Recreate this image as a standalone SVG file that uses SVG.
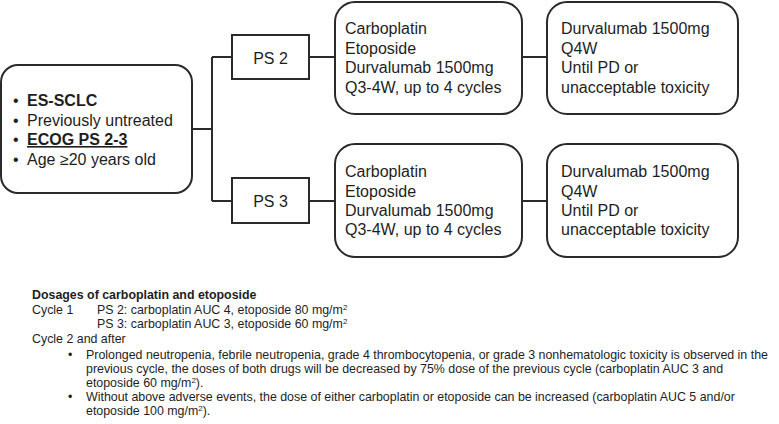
<svg xmlns="http://www.w3.org/2000/svg" width="779" height="424" viewBox="0 0 779 424">
<style>
.box{fill:#fff;stroke:#2a2a2a;stroke-width:2}
.ln{fill:none;stroke:#2a2a2a;stroke-width:2}
.t{font-family:"Liberation Sans",Arial,sans-serif;font-size:16px;fill:#1e1e1e}
.b{font-weight:bold}
.f{font-family:"Liberation Sans",Arial,sans-serif;font-size:12.4px;fill:#1e1e1e}
.sup{font-size:8px}
</style>
<rect width="779" height="424" fill="#fff"/>
<g id="connectors">
<path class="ln" d="M192 129H212M212 57V201M212 57H232M212 201H232M309 57H335M309 201H335M522 57H547M522 201H547"/>
</g>
<g id="eligibility">
<rect class="box" x="1" y="65" width="191" height="128" rx="17"/>
<text class="t" x="13" y="106">•</text><text class="t b" x="27" y="106">ES-SCLC</text>
<text class="t" x="13" y="126">•</text><text class="t" x="27" y="126">Previously untreated</text>
<text class="t" x="13" y="145">•</text><text class="t b" x="27" y="145" text-decoration="underline">ECOG PS 2-3</text>
<text class="t" x="13" y="165">•</text><text class="t" x="27" y="165">Age ≥20 years old</text>
</g>
<g id="ps2">
<rect class="box" x="232" y="35" width="77" height="44"/>
<text class="t" x="270.5" y="63.5" text-anchor="middle">PS 2</text>
</g>
<g id="ps3">
<rect class="box" x="232" y="178" width="77" height="45"/>
<text class="t" x="270.5" y="207" text-anchor="middle">PS 3</text>
</g>
<g id="chemo2">
<rect class="box" x="335" y="2" width="187" height="112" rx="20"/>
<text class="t" x="345" y="34">Carboplatin</text>
<text class="t" x="345" y="53.5">Etoposide</text>
<text class="t" x="345" y="73">Durvalumab 1500mg</text>
<text class="t" x="345" y="92.5">Q3-4W, up to 4 cycles</text>
</g>
<g id="maint2">
<rect class="box" x="547" y="2" width="191" height="112" rx="20"/>
<text class="t" x="561" y="34">Durvalumab 1500mg</text>
<text class="t" x="561" y="53.5">Q4W</text>
<text class="t" x="561" y="73">Until PD or</text>
<text class="t" x="561" y="92.5">unacceptable toxicity</text>
</g>
<g id="chemo3">
<rect class="box" x="335" y="144" width="187" height="113" rx="20"/>
<text class="t" x="345" y="177">Carboplatin</text>
<text class="t" x="345" y="196.5">Etoposide</text>
<text class="t" x="345" y="216">Durvalumab 1500mg</text>
<text class="t" x="345" y="235">Q3-4W, up to 4 cycles</text>
</g>
<g id="maint3">
<rect class="box" x="547" y="144" width="191" height="113" rx="20"/>
<text class="t" x="561" y="177">Durvalumab 1500mg</text>
<text class="t" x="561" y="196.5">Q4W</text>
<text class="t" x="561" y="216">Until PD or</text>
<text class="t" x="561" y="235">unacceptable toxicity</text>
</g>
<g id="footnote">
<text class="f b" x="32" y="299">Dosages of carboplatin and etoposide</text>
<text class="f" x="32" y="314">Cycle 1</text>
<text class="f" x="97" y="314">PS 2: carboplatin AUC 4, etoposide 80 mg/m<tspan class="sup" dy="-4">2</tspan></text>
<text class="f" x="97" y="328">PS 3: carboplatin AUC 3, etoposide 60 mg/m<tspan class="sup" dy="-4">2</tspan></text>
<text class="f" x="32" y="343">Cycle 2 and after</text>
<text class="f" x="68" y="359">•</text>
<text class="f" x="86" y="359">Prolonged neutropenia, febrile neutropenia, grade 4 thrombocytopenia, or grade 3 nonhematologic toxicity is observed in the</text>
<text class="f" x="86" y="373">previous cycle, the doses of both drugs will be decreased by 75% dose of the previous cycle (carboplatin AUC 3 and</text>
<text class="f" x="86" y="387">etoposide 60 mg/m<tspan class="sup" dy="-4">2</tspan><tspan dy="4">).</tspan></text>
<text class="f" x="68" y="401">•</text>
<text class="f" x="86" y="401">Without above adverse events, the dose of either carboplatin or etoposide can be increased (carboplatin AUC 5 and/or</text>
<text class="f" x="86" y="415">etoposide 100 mg/m<tspan class="sup" dy="-4">2</tspan><tspan dy="4">).</tspan></text>
</g>
</svg>
